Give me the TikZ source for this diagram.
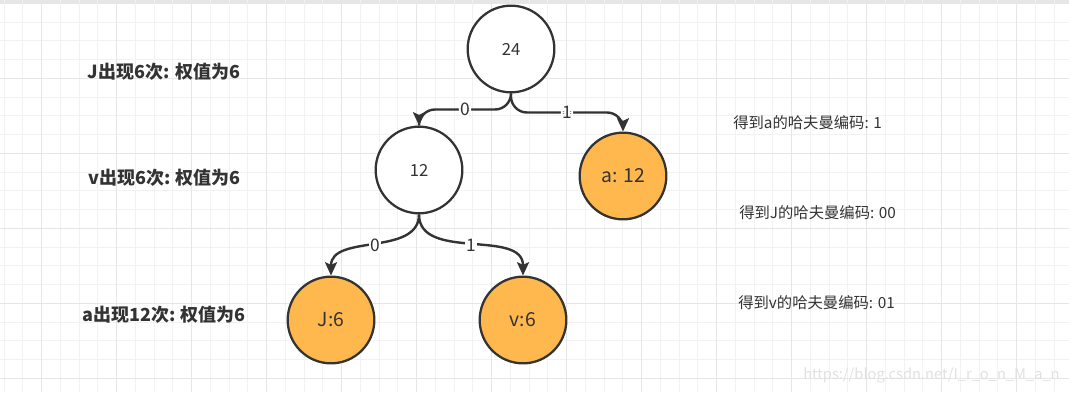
\documentclass[tikz,border=0pt]{standalone}
\usepackage{fontspec}
\setmainfont{Noto Sans CJK SC}
\usetikzlibrary{arrows.meta,calc}
\definecolor{inkgray}{HTML}{333333}
\definecolor{leaforange}{HTML}{FFB84D}
\definecolor{gridminor}{HTML}{F2F2F2}
\definecolor{gridmajor}{HTML}{E6E6E6}
\definecolor{markgray}{HTML}{E0E0E0}

\begin{document}
\begin{tikzpicture}[x=0.75pt,y=-0.75pt,
	treenode/.style={circle,draw=inkgray,line width=1.7pt,fill=white,minimum size=65pt,inner sep=0pt,text=inkgray,font=\fontsize{12.5}{15}\selectfont},
	leafnode/.style={treenode,fill=leaforange,font=\fontsize{14.5}{17}\selectfont},
	edge/.style={draw=inkgray,line width=1.8pt,-{Stealth[length=10pt,width=9pt,inset=2pt]}},
	elabel/.style={fill=white,inner sep=1pt,text=inkgray,font=\fontsize{13}{15}\selectfont},
	weightnote/.style={text=inkgray,font=\bfseries\fontsize{13.5}{16}\selectfont,inner sep=0pt},
	codenote/.style={text=inkgray,font=\fontsize{11.5}{14}\selectfont,inner sep=0pt,anchor=west}]
		\useasboundingbox (0,0) rectangle (1069,392);
		% background grid
		\fill[gridmajor] (0,0) rectangle (1069,3);
		\foreach \i in {0,...,56}
			\draw[gridminor,line width=0.75pt] ({4.2+18.75*\i},0) -- ({4.2+18.75*\i},392);
		\foreach \j in {0,...,20}
			\draw[gridminor,line width=0.75pt] (0,{3.3+18.75*\j}) -- (1069,{3.3+18.75*\j});
		\foreach \i in {0,...,13}
			\draw[gridmajor,line width=0.75pt] ({41.7+75*\i},0) -- ({41.7+75*\i},392);
		\foreach \j in {0,...,5}
			\draw[gridmajor,line width=0.75pt] (0,{3.3+75*\j}) -- (1069,{3.3+75*\j});

		% tree
		\node[treenode] (root) at (511,49) {24};
		\node[treenode] (n12) at (419,170) {12};
		\node[leafnode] (leafa) at (623,176) {a: 12};
		\node[leafnode] (leafJ) at (331,320) {J:6};
		\node[leafnode] (leafv) at (523,320) {v:6};
		\draw[edge,rounded corners=12pt] (root.south) |- ($(root.south)!.5!(n12.north)$) node[elabel] {0} -| (n12.north);
		\draw[edge,rounded corners=12pt] (root.south) |- ($(root.south)!.5!(leafa.north)$) node[elabel] {1} -| (leafa.north);
		\draw[edge] (n12.south) to[out=-90,in=90] node[elabel] {0} (leafJ.north);
		\draw[edge] (n12.south) to[out=-90,in=90] node[elabel] {1} (leafv.north);

		% notes
		\node[weightnote] (noteJ) at (164,72) {J出现6次: 权值为6};
		\node[weightnote] (notev) at (164.5,178) {v出现6次: 权值为6};
		\node[weightnote] (notea) at (164,315) {a出现12次: 权值为6};
		\node[codenote] (codea) at (733,123) {得到a的哈夫曼编码: 1};
		\node[codenote] (codeJ) at (739,213) {得到J的哈夫曼编码: 00};
		\node[codenote] (codev) at (738,303) {得到v的哈夫曼编码: 01};
		\node[text=markgray,font=\fontsize{11}{13}\selectfont,inner sep=0pt,anchor=west] (mark) at (803,375) {https://blog.csdn.net/I\_r\_o\_n\_M\_a\_n};
	\end{tikzpicture}
\end{document}
